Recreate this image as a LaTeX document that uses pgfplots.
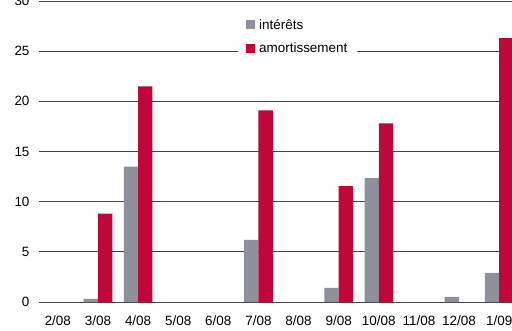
\documentclass[border=0pt]{standalone}
\usepackage{pgfplots}
\pgfplotsset{compat=1.18}
\usepackage{fontspec}
\setmainfont{Liberation Sans}

\definecolor{interets}{RGB}{142,144,156}
\definecolor{amort}{RGB}{190,8,60}
\definecolor{gridc}{RGB}{70,70,70}

% monthly flows: 0 = 2/08 ... 11 = 1/09
\pgfplotstableread{
x  v
1  0.3
2  13.5
5  6.2
7  1.4
8  12.35
10 0.5
11 2.9
}\interets
\pgfplotstableread{
x  v
1  8.8
2  21.5
5  19.1
7  11.55
8  17.8
11 26.3
}\amortissement

\begin{document}
\begin{tikzpicture}
\begin{axis}[
  name=ax,
  scale only axis,
  width=473bp, height=301bp,
  xmin=-0.47, xmax=11.32,
  ymin=0, ymax=30,
  ybar=0pt, bar width=14.3bp,
  axis line style={draw=none},
  major tick length=0pt,
  ytick={0,5,...,30},
  xtick={0,...,11},
  xticklabels={2/08,3/08,4/08,5/08,6/08,7/08,8/08,9/08,10/08,11/08,12/08,1/09},
  ymajorgrids,
  grid style={gridc, line width=0.9bp},
  tick label style={font=\fontsize{13.5}{15}\selectfont},
  /pgf/number format/assume math mode=true,
  yticklabel style={xshift=-6bp},
  xticklabel style={yshift=-10bp},
  legend style={draw=none, fill=white, at={(0.4207,0.957)}, anchor=north west,
    inner xsep=8bp, inner ysep=3bp, font=\fontsize{13.5}{15}\selectfont,
    legend cell align=left, row sep=8bp, column sep=2bp},
  legend image code/.code={\fill[#1] (0bp,-4.5bp) rectangle (9bp,4.5bp);},
]
\addplot[fill=interets, draw=none] table[x=x, y=v] {\interets};
\addplot[fill=amort, draw=none] table[x=x, y=v] {\amortissement};
\legend{intérêts, amortissement}
\end{axis}
\pgfresetboundingbox
\path[use as bounding box] (ax.south west) ++(-39bp,-29bp) rectangle ++(512bp,331bp);
\end{tikzpicture}
\end{document}
